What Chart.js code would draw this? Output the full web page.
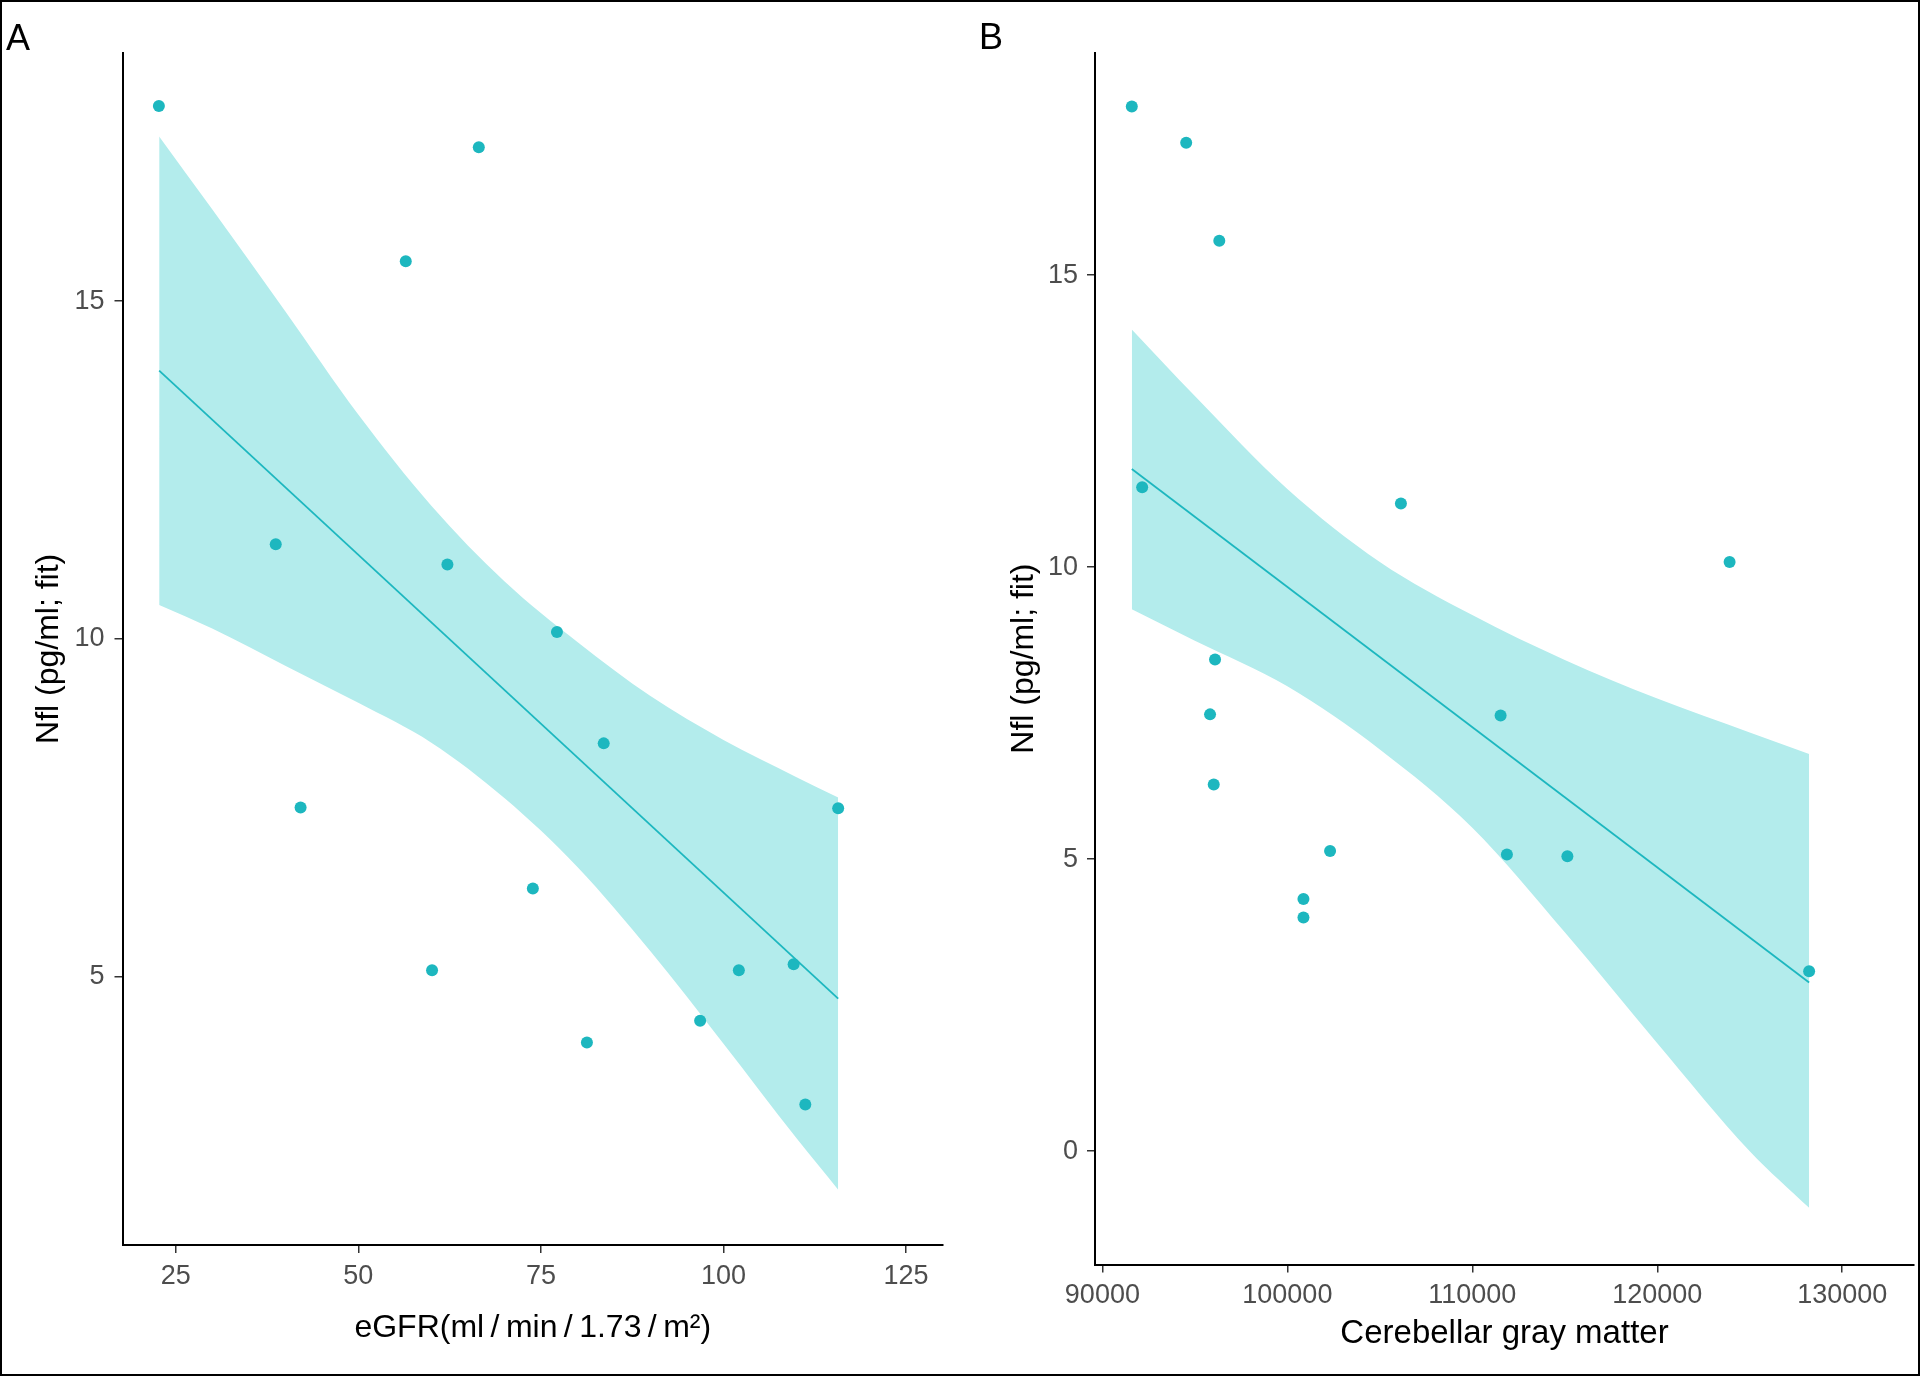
<!DOCTYPE html>
<html>
<head>
<meta charset="utf-8">
<script src="https://cdn.jsdelivr.net/npm/chart.js@4.4.1/dist/chart.umd.min.js"></script>
<style>
  html, body { margin: 0; padding: 0; background: #fff; }
  #wrap { position: relative; width: 1920px; height: 1376px; overflow: hidden; }
  canvas { position: absolute; top: 0; }
  #chartA { left: 0; }
  #chartB { left: 960px; }
  #frame { position: absolute; left: 0; top: 0; width: 1920px; height: 1376px; box-sizing: border-box; border: 2px solid #000; pointer-events: none; }
</style>
</head>
<body>
<div id="wrap">
  <canvas id="chartA" width="960" height="1376"></canvas>
  <canvas id="chartB" width="960" height="1376"></canvas>
  <div id="frame"></div>
</div>
<script>
// Panel A: eGFR vs Nfl
const egfr = [22.7, 66.5, 56.5, 38.7, 62.2, 77.2, 83.6, 42.1, 115.7, 73.9, 60.1, 102.1, 109.6, 96.8, 81.3, 111.2];
const nflA = [17.89, 17.28, 15.59, 11.40, 11.10, 10.10, 8.45, 7.50, 7.49, 6.30, 5.09, 5.09, 5.18, 4.34, 4.02, 3.10];
const egfrTicks = [25, 50, 75, 100, 125];
const nflTicksA = [5, 10, 15];
const fitA_x = [22.74, 115.7];
const fitA_y = [13.97, 4.67];
const bandA_x = [22.74, 30, 40, 50, 60, 70, 80, 90, 100, 110, 115.7];
const bandA_upper = [17.44, 16.36, 14.85, 13.32, 11.97, 10.85, 9.95, 9.15, 8.5, 7.95, 7.65];
const bandA_lower = [10.50, 10.15, 9.60, 9.05, 8.46, 7.64, 6.62, 5.37, 4.0, 2.6, 1.84];

// Panel B: cerebellar gray matter vs Nfl
const gray = [91590, 94530, 96320, 92150, 106140, 123910, 96090, 95820, 111530, 96020, 102310, 111870, 115140, 100870, 100870, 128210];
const nflB = [17.89, 17.27, 15.59, 11.37, 11.09, 10.09, 8.42, 7.48, 7.46, 6.28, 5.14, 5.08, 5.05, 4.32, 4.00, 3.08];
const grayTicks = [90000, 100000, 110000, 120000, 130000];
const nflTicksB = [0, 5, 10, 15];
const fitB_x = [91590, 128210];
const fitB_y = [11.68, 2.89];
const bandB_x = [91590, 95000, 100000, 105000, 110000, 115000, 120000, 125000, 128210];
const bandB_upper = [14.07, 12.93, 11.34, 10.09, 9.18, 8.41, 7.75, 7.17, 6.80];
const bandB_lower = [9.28, 8.74, 7.96, 6.88, 5.54, 3.75, 1.85, 0.0, -0.97];

const teal = '#1DB7BF';
const bandFill = '#B3ECEC';
const fontFamily = "'Liberation Sans', Arial, sans-serif";

function pts(xs, ys) {
    return xs.map((x, i) => ({ x: x, y: ys[i] }));
}

// draws the panel letter in the top left corner
function panelLabel(text, x, y) {
    return {
        id: 'panelLabel' + text,
        afterDraw(chart) {
            const ctx = chart.ctx;
            ctx.save();
            ctx.font = '36px ' + fontFamily;
            ctx.fillStyle = '#000';
            ctx.textAlign = 'left';
            ctx.textBaseline = 'alphabetic';
            ctx.fillText(text, x, y);
            ctx.restore();
        }
    };
}

function makeChart(canvasId, cfg) {
    return new Chart(document.getElementById(canvasId), {
        type: 'scatter',
        data: {
            datasets: [
                { label: 'points', data: pts(cfg.x, cfg.y), pointRadius: 6, pointBackgroundColor: teal, pointBorderWidth: 0, showLine: false },
                { label: 'fit', data: pts(cfg.fitX, cfg.fitY), showLine: true, borderColor: teal, borderWidth: 1.8, pointRadius: 0, fill: false },
                { label: 'upper', data: pts(cfg.bandX, cfg.bandUp), showLine: true, borderWidth: 0, borderColor: 'rgba(0,0,0,0)', pointRadius: 0,
                  fill: '+1', backgroundColor: bandFill, cubicInterpolationMode: 'monotone' },
                { label: 'lower', data: pts(cfg.bandX, cfg.bandLo), showLine: true, borderWidth: 0, borderColor: 'rgba(0,0,0,0)', pointRadius: 0,
                  fill: false, cubicInterpolationMode: 'monotone' }
            ]
        },
        options: {
            responsive: false,
            animation: false,
            events: [],
            layout: { padding: { top: 52.7, right: cfg.rightPad, bottom: 0, left: 0 } },
            plugins: { legend: { display: false }, tooltip: { enabled: false } },
            scales: {
                x: {
                    type: 'linear',
                    min: cfg.xMin,
                    max: cfg.xMax,
                    afterBuildTicks: s => { s.ticks = cfg.xTicks.map(v => ({ value: v })); },
                    afterFit: s => { s.height = cfg.xHeight; },
                    ticks: { color: '#4D4D4D', font: { size: 27, family: fontFamily }, padding: 7, maxRotation: 0, autoSkip: false,
                             callback: v => String(v) },
                    grid: { drawOnChartArea: false, drawTicks: true, tickLength: 8, color: '#333', lineWidth: 1.5 },
                    border: { display: true, color: '#000', width: 2 },
                    title: { display: true, text: cfg.xTitle, color: '#000', font: { size: cfg.xTitleSize, family: fontFamily },
                             padding: { top: 0, bottom: cfg.xTitlePad } }
                },
                y: {
                    type: 'linear',
                    min: cfg.yMin,
                    max: cfg.yMax,
                    afterBuildTicks: s => { s.ticks = cfg.yTicks.map(v => ({ value: v })); },
                    afterFit: s => { s.width = cfg.yWidth; },
                    ticks: { color: '#4D4D4D', font: { size: 27, family: fontFamily }, padding: cfg.yTickPad, autoSkip: false,
                             callback: v => String(v) },
                    grid: { drawOnChartArea: false, drawTicks: true, tickLength: 8, color: '#333', lineWidth: 1.5 },
                    border: { display: true, color: '#000', width: 2 },
                    title: { display: true, text: 'Nfl (pg/ml; fit)', color: '#000', font: { size: 32, family: fontFamily },
                             padding: { top: cfg.yTitlePad, bottom: 0 } }
                }
            }
        },
        plugins: [panelLabel(cfg.letter, cfg.letterX, cfg.letterY)]
    });
}

makeChart('chartA', {
    x: egfr, y: nflA, fitX: fitA_x, fitY: fitA_y,
    bandX: bandA_x, bandUp: bandA_upper, bandLo: bandA_lower,
    xMin: 17.72, xMax: 130.05, xTicks: egfrTicks,
    yMin: 1.02, yMax: 18.68, yTicks: nflTicksA,
    xTitle: 'eGFR(ml\u2009/\u2009min\u2009/\u20091.73\u2009/\u2009m\u00B2)', xTitleSize: 32, xTitlePad: 29, xHeight: 131,
    yWidth: 122.5, yTickPad: 10, yTitlePad: 30, rightPad: 17,
    letter: 'A', letterX: 6, letterY: 50
});

makeChart('chartB', {
    x: gray, y: nflB, fitX: fitB_x, fitY: fitB_y,
    bandX: bandB_x, bandUp: bandB_upper, bandLo: bandB_lower,
    xMin: 89600, xMax: 133880, xTicks: grayTicks,
    yMin: -1.94, yMax: 18.81, yTicks: nflTicksB,
    xTitle: 'Cerebellar gray matter', xTitleSize: 33, xTitlePad: 22, xHeight: 111.5,
    yWidth: 135, yTickPad: 9, yTitlePad: 45, rightPad: 5,
    letter: 'B', letterX: 19, letterY: 49
});
</script>
</body>
</html>
